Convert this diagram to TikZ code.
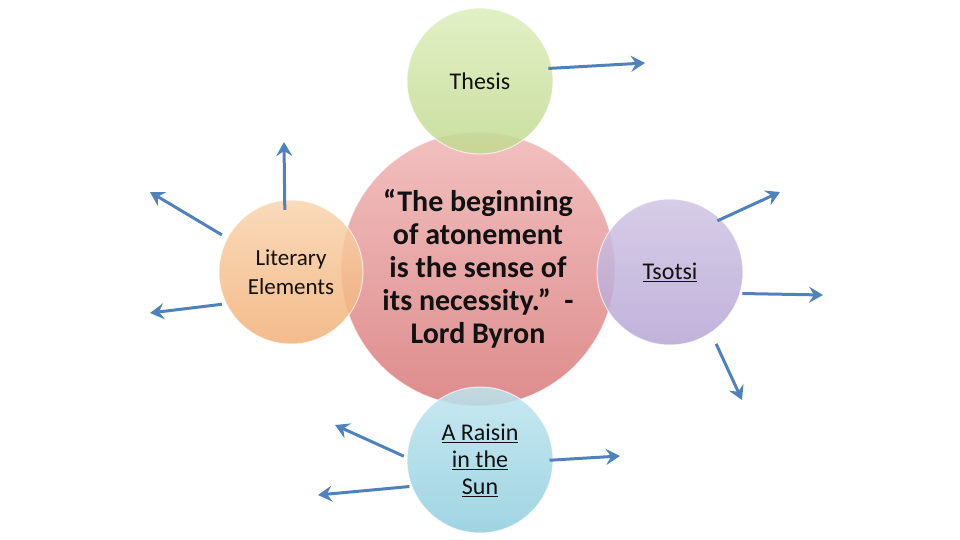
\documentclass[tikz,border=0pt]{standalone}
\usepackage{fontspec}
\setmainfont{Carlito}
\usetikzlibrary{calc,arrows.meta}

\definecolor{arrowblue}{HTML}{4F81BD}
\definecolor{pinktop}{HTML}{F2C0C0}
\definecolor{pinkbot}{HTML}{DE8C8C}
\definecolor{greentop}{HTML}{DDEDBB}
\definecolor{greenbot}{HTML}{C0DA8F}
\definecolor{lilactop}{HTML}{CFC4E4}
\definecolor{lilacbot}{HTML}{B6A5D4}
\definecolor{bluetop}{HTML}{BDE5EF}
\definecolor{bluebot}{HTML}{8FCDDE}
\definecolor{orangetop}{HTML}{F9D4AD}
\definecolor{orangebot}{HTML}{F1B077}
\definecolor{textdark}{HTML}{111111}

\tikzset{
  bubble/.style={circle, draw=white, draw opacity=0.7, line width=1pt,
    fill opacity=0.85, text opacity=1.0, text=textdark, align=center,
    minimum size=146pt, inner sep=0pt, font=\fontsize{24}{27}\selectfont},
  pointer/.style={-{Stealth[length=14pt,width=16pt,inset=5pt]}, draw=arrowblue, fill=arrowblue, line width=3pt},
}

\begin{document}
\begin{tikzpicture}[x=1pt, y=-1pt]
\useasboundingbox (0,0) rectangle (960,540);

\node[name=quote, bubble, minimum size=274pt, fill opacity=1.0,
  top color=pinktop, bottom color=pinkbot,
  font=\fontsize{30}{33}\selectfont\bfseries] at (478,269)
  {``The beginning\\of atonement\\is the sense of\\its necessity.''~~-\\Lord Byron};

\node[name=thesis, bubble, top color=greentop, bottom color=greenbot] at (480,81) {Thesis};
\node[name=tsotsi, bubble, top color=lilactop, bottom color=lilacbot] at (670,272) {\underline{Tsotsi}};
\node[name=raisin, bubble, top color=bluetop, bottom color=bluebot] at (480,460)
  {\underline{A Raisin}\\\underline{in the}\\\underline{Sun}};
\node[name=lit, bubble, minimum size=144pt, top color=orangetop, bottom color=orangebot,
  font=\fontsize{23}{29}\selectfont] at (291,272) {Literary\\Elements};

\coordinate (t1) at (645,63);
\coordinate (s1) at (780,192);
\coordinate (s2) at (823,295);
\coordinate (s3) at (742,400);
\coordinate (r1) at (620,456);
\coordinate (r2) at (335,425);
\coordinate (r3) at (318,495);
\coordinate (l1) at (284,142);
\coordinate (l2) at (150,192);
\coordinate (l3) at (150,313);

\draw[pointer, shorten <=-4pt] (thesis.10) -- (t1);
\draw[pointer, shorten <=-4pt] (tsotsi.46) -- (s1);
\draw[pointer, shorten <=2pt] (tsotsi.-17) -- (s2);
\draw[pointer, shorten <=12pt] (tsotsi.-56) -- (s3);
\draw[pointer, shorten <=-4pt] (raisin.0) -- (r1);
\draw[pointer, shorten <=3pt] (raisin.178) -- (r2);
\draw[pointer, shorten <=2pt] (raisin.201) -- (r3);
\draw[pointer, shorten <=-10pt] (lit.95) -- (l1);
\draw[pointer, shorten <=6pt] (lit.152) -- (l2);
\draw[pointer, shorten <=4pt] (lit.206) -- (l3);
\end{tikzpicture}
\end{document}
